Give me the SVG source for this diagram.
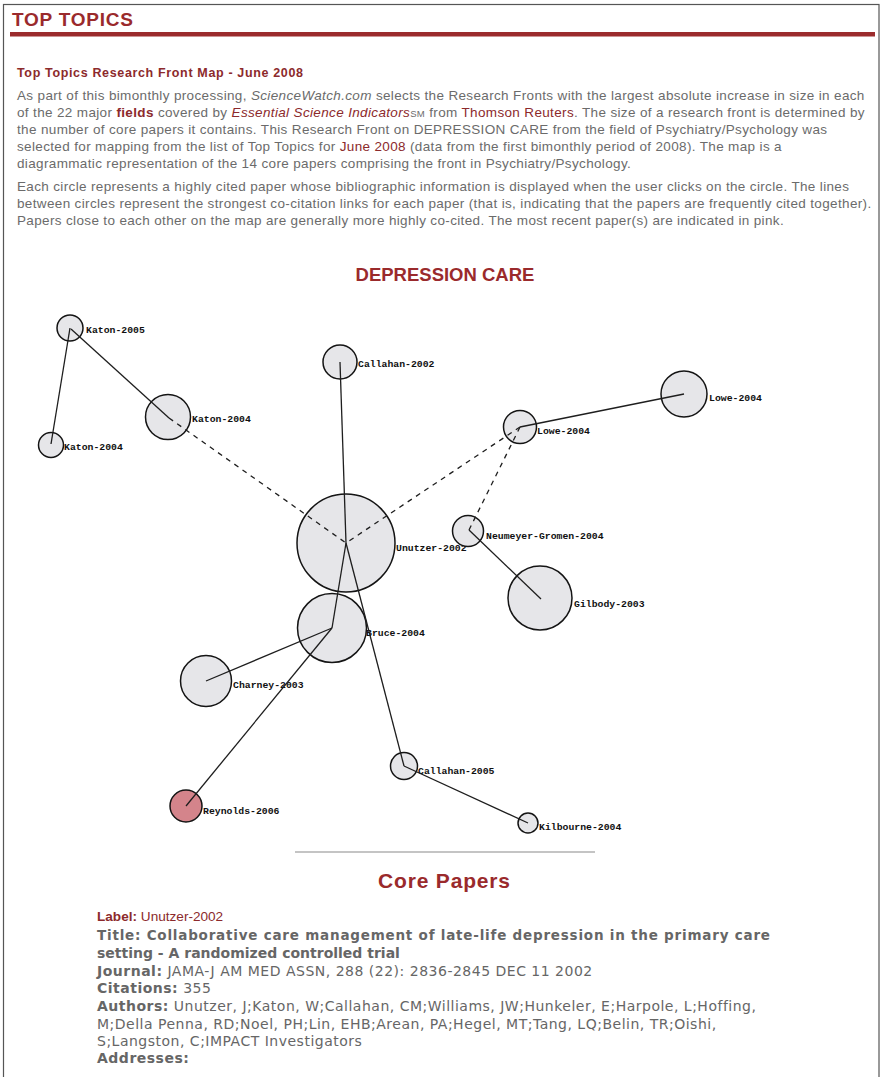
<svg xmlns="http://www.w3.org/2000/svg" width="885" height="1077" viewBox="0 0 885 1077">
<style>
.para{font-family:"Liberation Sans",Arial,sans-serif;font-size:13.5px;letter-spacing:0.35px;fill:#6b6b6b}
.red{fill:#8c2a2c}
.node circle{fill:#e6e6e9;stroke:#141414;stroke-width:1.5}
.node text{font-family:"Liberation Mono","DejaVu Sans Mono",monospace;font-size:9.8px;font-weight:bold;fill:#111}
.edge{stroke:#1e1e1e;stroke-width:1.3;fill:none}
.dash{stroke-dasharray:5 5}
.cp{font-family:"DejaVu Sans",Verdana,sans-serif;fill:#666}
.cn{font-size:14px;letter-spacing:0.5px}
.b{font-weight:bold}
</style>
<rect x="0" y="0" width="885" height="1077" fill="#fff"/>
<rect x="3.5" y="4.5" width="875.5" height="1080" fill="none" stroke="#555" stroke-width="1.2"/>

<g id="header">
<text x="12" y="26" font-family="Liberation Sans,Arial,sans-serif" font-size="19" font-weight="bold" fill="#9a2a2c" textLength="121">TOP TOPICS</text>
<rect x="10" y="32" width="865" height="4.5" fill="#9b2b2d"/>
<text x="17" y="77" font-family="Liberation Sans,Arial,sans-serif" font-size="12.5" font-weight="bold" fill="#8c2a2c" textLength="286">Top Topics Research Front Map - June 2008</text>
</g>

<g id="intro" class="para">
<text x="17" y="100">As part of this bimonthly processing, <tspan font-style="italic">ScienceWatch.com</tspan> selects the Research Fronts with the largest absolute increase in size in each</text>
<text x="17" y="117">of the 22 major <tspan class="red" font-weight="bold">fields</tspan> covered by <tspan class="red" font-style="italic">Essential Science Indicators</tspan><tspan font-size="9.5">SM</tspan> from <tspan class="red">Thomson Reuters</tspan>. The size of a research front is determined by</text>
<text x="17" y="134">the number of core papers it contains. This Research Front on DEPRESSION CARE from the field of Psychiatry/Psychology was</text>
<text x="17" y="151">selected for mapping from the list of Top Topics for <tspan class="red">June 2008</tspan> (data from the first bimonthly period of 2008). The map is a</text>
<text x="17" y="168">diagrammatic representation of the 14 core papers comprising the front in Psychiatry/Psychology.</text>
<text x="17" y="191">Each circle represents a highly cited paper whose bibliographic information is displayed when the user clicks on the circle. The lines</text>
<text x="17" y="208">between circles represent the strongest co-citation links for each paper (that is, indicating that the papers are frequently cited together).</text>
<text x="17" y="225">Papers close to each other on the map are generally more highly co-cited. The most recent paper(s) are indicated in pink.</text>
</g>

<text id="map-title" x="445" y="281" text-anchor="middle" font-family="Liberation Sans,Arial,sans-serif" font-size="18.5" font-weight="bold" fill="#9a2a2c">DEPRESSION CARE</text>

<g id="n-katon2005" class="node"><circle cx="70" cy="328" r="13"/><text x="86" y="333">Katon-2005</text></g>
<g id="n-katon2004a" class="node"><circle cx="51" cy="445" r="12.5"/><text x="64" y="450">Katon-2004</text></g>
<g id="n-katon2004b" class="node"><circle cx="168" cy="417" r="22.5"/><text x="192" y="422">Katon-2004</text></g>
<g id="n-callahan2002" class="node"><circle cx="340" cy="362" r="17"/><text x="358" y="367">Callahan-2002</text></g>
<g id="n-lowe2004a" class="node"><circle cx="684" cy="394" r="23"/><text x="709" y="401">Lowe-2004</text></g>
<g id="n-lowe2004b" class="node"><circle cx="520" cy="427" r="16.5"/><text x="537" y="434">Lowe-2004</text></g>
<g id="n-unutzer2002" class="node"><circle cx="346" cy="543" r="49"/><text x="396" y="551">Unutzer-2002</text></g>
<g id="n-neumeyer2004" class="node"><circle cx="468" cy="531" r="15.5"/><text x="486" y="539">Neumeyer-Gromen-2004</text></g>
<g id="n-gilbody2003" class="node"><circle cx="540" cy="598" r="32"/><text x="574" y="607">Gilbody-2003</text></g>
<g id="n-bruce2004" class="node"><circle cx="332" cy="628" r="34.5"/><text x="366" y="636">Bruce-2004</text></g>
<g id="n-charney2003" class="node"><circle cx="206" cy="681" r="25.5"/><text x="233" y="688">Charney-2003</text></g>
<g id="n-reynolds2006" class="node"><circle cx="186" cy="806" r="16" style="fill:#d4848b"/><text x="203" y="814">Reynolds-2006</text></g>
<g id="n-callahan2005" class="node"><circle cx="404" cy="766" r="13.5"/><text x="418" y="774">Callahan-2005</text></g>
<g id="n-kilbourne2004" class="node"><circle cx="528" cy="823" r="10"/><text x="539" y="830">Kilbourne-2004</text></g>

<g id="connectors">
<line class="edge" x1="70" y1="328" x2="51" y2="444"/>
<line class="edge" x1="71" y1="329" x2="169" y2="418"/>
<line class="edge dash" x1="169" y1="418" x2="346" y2="543"/>
<line class="edge" x1="340" y1="362" x2="346" y2="543"/>
<line class="edge" x1="684" y1="394" x2="520" y2="427"/>
<line class="edge dash" x1="520" y1="427" x2="349" y2="541"/>
<line class="edge dash" x1="520" y1="427" x2="469" y2="530"/>
<line class="edge" x1="469" y1="530" x2="541" y2="599"/>
<line class="edge" x1="346" y1="543" x2="332" y2="628"/>
<line class="edge" x1="346" y1="543" x2="404" y2="766"/>
<line class="edge" x1="332" y1="628" x2="206" y2="681"/>
<line class="edge" x1="332" y1="628" x2="186" y2="806"/>
<line class="edge" x1="404" y1="766" x2="528" y2="823"/>
</g>

<line x1="295" y1="852" x2="595" y2="852" stroke="#8a8a8a" stroke-width="1.2"/>
<text id="core-title" x="444" y="888" text-anchor="middle" font-family="Liberation Sans,Arial,sans-serif" font-size="21" font-weight="bold" fill="#9a2a2c" textLength="132">Core Papers</text>

<g id="core-paper">
<text x="97" y="921" font-family="Liberation Sans,Arial,sans-serif" font-size="13.6" class="red"><tspan font-weight="bold">Label:</tspan> Unutzer-2002</text>
<text x="97" y="940" class="cp b" font-size="13.5" textLength="673">Title: Collaborative care management of late-life depression in the primary care</text>
<text x="97" y="958" class="cp b" font-size="14">setting - A randomized controlled trial</text>
<text x="97" y="976" class="cp cn"><tspan class="b">Journal:</tspan> JAMA-J AM MED ASSN, 288 (22): 2836-2845 DEC 11 2002</text>
<text x="97" y="993" class="cp cn"><tspan class="b">Citations:</tspan> 355</text>
<text x="97" y="1011" class="cp cn"><tspan class="b">Authors:</tspan> Unutzer, J;Katon, W;Callahan, CM;Williams, JW;Hunkeler, E;Harpole, L;Hoffing,</text>
<text x="97" y="1029" class="cp cn">M;Della Penna, RD;Noel, PH;Lin, EHB;Arean, PA;Hegel, MT;Tang, LQ;Belin, TR;Oishi,</text>
<text x="97" y="1046" class="cp cn">S;Langston, C;IMPACT Investigators</text>
<text x="97" y="1063" class="cp cn b">Addresses:</text>
</g>
</svg>
